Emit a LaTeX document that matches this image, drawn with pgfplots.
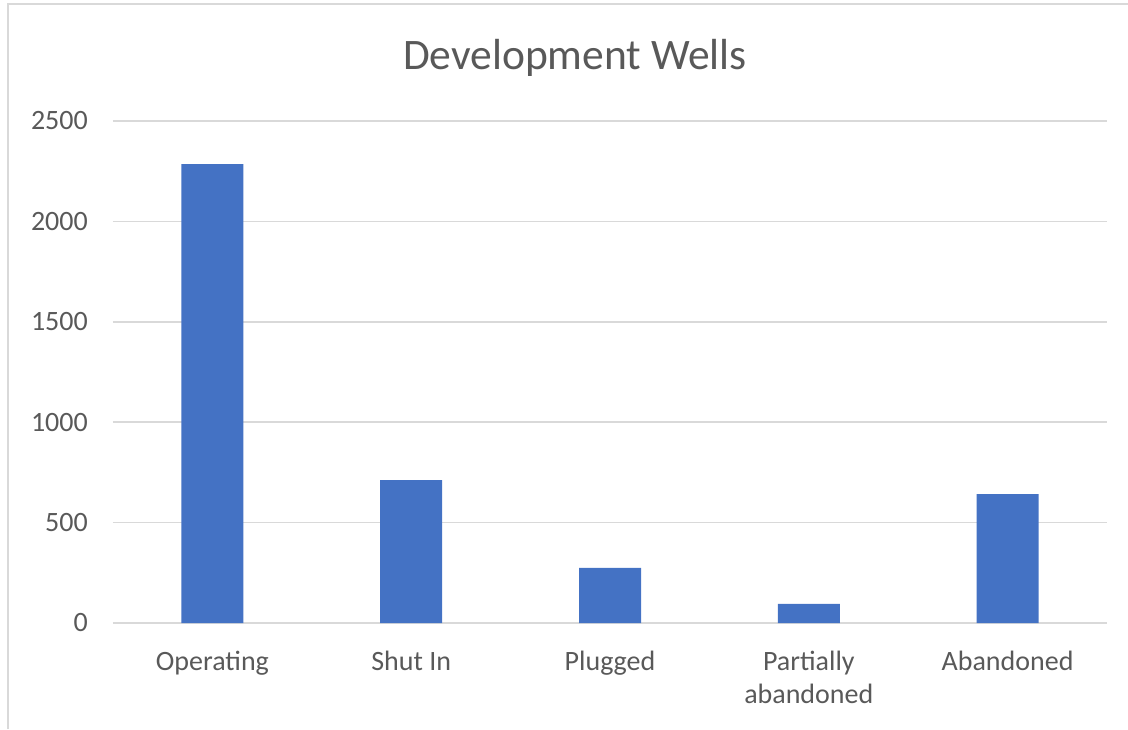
\documentclass[border=0pt]{standalone}
\usepackage{fontspec}
\setmainfont{Carlito}
\usepackage{pgfplots}
\pgfplotsset{compat=1.18}
\definecolor{BarBlue}{HTML}{4472C4}
\definecolor{GridGray}{HTML}{D9D9D9}
\definecolor{TextGray}{HTML}{595959}
\begin{document}
\begin{tikzpicture}[x=1pt,y=1pt]
  \useasboundingbox (0,0) rectangle (1128,729);
  \draw[GridGray, line width=2pt] (8,0) -- (8,725) -- (1128,725);
  \node[TextGray, font=\fontsize{43.5}{52}\selectfont, anchor=base] at (575,659) {Development Wells};
  \begin{axis}[
      at={(113pt,106pt)}, anchor=south west,
      scale only axis,
      width=994pt, height=502pt,
      ybar, bar width=62pt,
      xmin=-0.5, xmax=4.5,
      ymin=0, ymax=2500,
      xtick={0,1,2,3,4},
      xticklabels={Operating, Shut In, Plugged, {Partially\\abandoned}, Abandoned},
      ytick={0,500,...,2500},
      axis line style={draw=none},
      ymajorgrids,
      grid style={GridGray, line width=1.5pt},
      major tick length=0pt,
      tick label style={TextGray, font=\fontsize{28}{33}\selectfont, inner sep=0pt},
      /pgf/number format/assume math mode=true,
      /pgf/number format/1000 sep={},
      yticklabel style={anchor=east, xshift=-25pt},
      xticklabel style={anchor=north, align=center, yshift=-28pt},
      clip=false
    ]
    \addplot[fill=BarBlue, draw=none] coordinates {(0,2285) (1,712) (2,274) (3,95) (4,642)};
  \end{axis}
\end{tikzpicture}
\end{document}
